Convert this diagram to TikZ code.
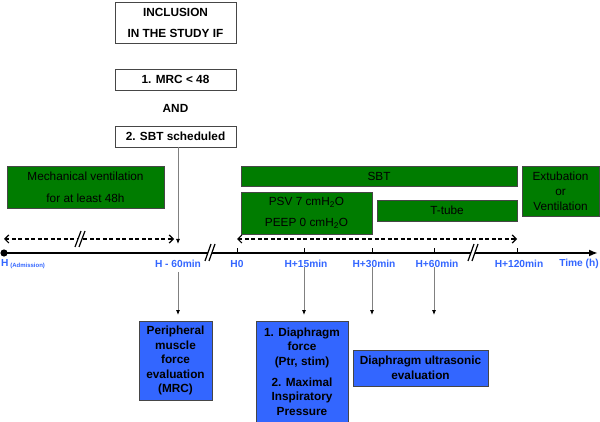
\documentclass[tikz,border=0pt]{standalone}
\usepackage{fontspec}
\setmainfont{Liberation Sans}
\usetikzlibrary{arrows.meta,calc}
\definecolor{gfill}{RGB}{0,124,0}
\definecolor{bfill}{RGB}{51,102,255}
\definecolor{lblue}{RGB}{51,102,255}
\definecolor{edge}{RGB}{70,70,70}
\begin{document}
\begin{tikzpicture}[x=1pt,y=-1pt,
  wbox/.style={draw=edge,line width=0.8pt,fill=white,inner sep=0pt,align=center,font=\fontsize{11.8}{21}\selectfont\bfseries},
  gbox/.style={draw=edge,line width=0.8pt,fill=gfill,inner sep=0pt,align=center,font=\fontsize{11.8}{22}\selectfont},
  bbox/.style={draw=edge,line width=0.8pt,fill=bfill,inner sep=0pt,align=center,font=\fontsize{11.8}{14.5}\selectfont\bfseries},
  tlabel/.style={text=lblue,font=\fontsize{10.2}{12}\selectfont\bfseries,inner sep=0pt},
  garrow/.style={draw=gray,line width=0.8pt,-{Latex[length=5pt,width=4pt,color=black]}},
  darrow/.style={dashed,line width=1.2pt,dash pattern=on 4pt off 2.5pt,{Straight Barb[length=4pt,width=8pt]}-{Straight Barb[length=4pt,width=8pt]}}
]
\useasboundingbox (0,0) rectangle (600,422);

% top inclusion boxes
\node[wbox,minimum width=121,minimum height=41] (incl) at (175.5,22.5) {INCLUSION\\IN THE STUDY IF};
\node[wbox,minimum width=121,minimum height=21] (mrc) at (175.5,79.5) {1. MRC < 48};
\node[font=\fontsize{11.8}{14}\selectfont\bfseries,inner sep=0pt] (and) at (175.5,108) {AND};
\node[wbox,minimum width=121,minimum height=21] (sched) at (175.5,136.5) {2. SBT scheduled};

% green boxes
\node[gbox,minimum width=157,minimum height=42] (mech) at (85.5,187) {Mechanical ventilation\\for at least 48h};
\node[gbox,minimum width=276,minimum height=20] (sbt) at (379,176) {SBT};
\node[gbox,minimum width=131,minimum height=42,font=\fontsize{11.8}{21}\selectfont] (psv) at (306.5,213) {PSV 7 cmH\textsubscript{2}O\\PEEP 0 cmH\textsubscript{2}O};
\node[gbox,minimum width=140,minimum height=21] (ttube) at (447,210.5) {T-tube};
\node[gbox,minimum width=77,minimum height=50,font=\fontsize{11.8}{15}\selectfont] (extub) at (560.5,191) {Extubation\\or\\Ventilation};

% timeline coordinates
\coordinate (t0) at (4,253);
\coordinate (tm60) at (178,253);
\coordinate (h0) at (237,253);
\coordinate (h15) at (304,253);
\coordinate (h30) at (372,253);
\coordinate (h60) at (434,253);
\coordinate (h120) at (517,253);
\coordinate (tend) at (598,253);

\draw[line width=2pt,-{Latex[length=9pt,width=7pt]}] (t0) -- (tend);
\fill (t0) circle (3.6);
\foreach \c in {h0,h15,h30,h60,h120}{\draw[line width=1pt] (\c) -- ++(0,-5);}

% break marks on timeline
\foreach \xx in {210,473}{
  \fill[white] (\xx-5,262) -- (\xx-1,262) -- (\xx+5,244) -- (\xx+1,244) -- cycle;
  \draw[line width=1.2pt] (\xx-5,261) -- (\xx+1,244);
  \draw[line width=1.2pt] (\xx-1,261) -- (\xx+5,244);
}

% dashed arrows
\coordinate (dl1) at (4,239);
\coordinate (dl2) at (174,239);
\coordinate (dr1) at (237,239);
\coordinate (dr2) at (517,239);
\draw[darrow] (dl1) -- (dl2);
\draw[darrow] (dr1) -- (dr2);
\fill[white] (75,247) -- (79,247) -- (85,231) -- (81,231) -- cycle;
\draw[line width=1.2pt] (75,247) -- (81,231);
\draw[line width=1.2pt] (79,247) -- (85,231);

% labels
\node[tlabel,anchor=west] (lh) at (1,264) {H\,\raisebox{-1pt}{\fontsize{6}{7}\selectfont (Admission)}};
\node[tlabel] (l60) at (178,264) {H - 60min};
\node[tlabel] (l0) at (237,264) {H0};
\node[tlabel] (l15) at (306,264) {H+15min};
\node[tlabel] (l30) at (374,264) {H+30min};
\node[tlabel] (l60b) at (437,264) {H+60min};
\node[tlabel] (l120) at (519,264) {H+120min};
\node[tlabel] (ltime) at (579,264) {Time (h)};

% blue boxes
\node[bbox,minimum width=73,minimum height=79] (periph) at (175.5,360.5) {Peripheral\\muscle\\force\\evaluation\\(MRC)};
\node[bbox,minimum width=92,minimum height=101] (diaph) at (302,371.5) {1. Diaphragm\\force\\(Ptr, stim)\\[6.5pt]2. Maximal\\Inspiratory\\Pressure};
\node[bbox,minimum width=135,minimum height=36] (ultra) at (420.5,368) {Diaphragm ultrasonic\\evaluation};

% vertical arrows
\coordinate (s1) at (178,147);
\coordinate (e1) at (178,244);
\draw[garrow] (s1) -- (e1);
\coordinate (a1) at (178,272);
\coordinate (b1) at (178,315);
\coordinate (a2) at (304,267);
\coordinate (b2) at (304,315);
\coordinate (a3) at (372,267);
\coordinate (b3) at (372,315);
\coordinate (a4) at (434,267);
\coordinate (b4) at (434,315);
\draw[garrow] (a1) -- (b1);
\draw[garrow] (a2) -- (b2);
\draw[garrow] (a3) -- (b3);
\draw[garrow] (a4) -- (b4);
\end{tikzpicture}
\end{document}
